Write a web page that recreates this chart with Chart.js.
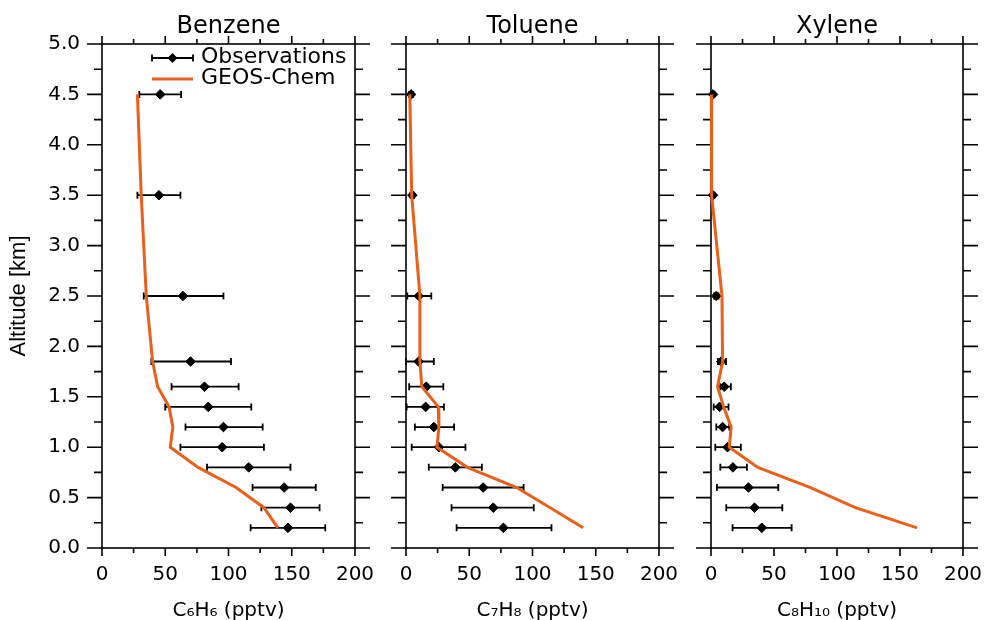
<!DOCTYPE html>
<html><head><meta charset="utf-8">
<script src="https://cdn.jsdelivr.net/npm/chart.js@4"></script>
<style>
html,body{margin:0;padding:0;background:#fff;width:989px;height:620px;overflow:hidden}
canvas{position:absolute;top:0}
</style></head><body>
<canvas id="c1" width="380" height="620" style="left:0px"></canvas>
<canvas id="c2" width="305" height="620" style="left:380px"></canvas>
<canvas id="c3" width="304" height="620" style="left:685px"></canvas>
<script>
// ---------- data ----------
const panelTitles = ['Benzene', 'Toluene', 'Xylene'];
const xTitles = ['C\u2086H\u2086 (pptv)', 'C\u2087H\u2088 (pptv)', 'C\u2088H\u2081\u2080 (pptv)'];
const yTitle = 'Altitude [km]';
const seriesLabels = ['Observations', 'GEOS-Chem'];
const xTickValues = [0, 50, 100, 150, 200];
const yTickValues = [0.0, 0.5, 1.0, 1.5, 2.0, 2.5, 3.0, 3.5, 4.0, 4.5, 5.0];

const altitudes = [4.5, 3.5, 2.5, 1.85, 1.6, 1.4, 1.2, 1.0, 0.8, 0.6, 0.4, 0.2];

const benzeneObs   = [46, 45, 64, 70, 81, 84, 96, 95, 116, 144, 149, 147];
const benzeneLo    = [29.5, 28, 33, 39, 55, 50, 66, 62, 83, 119, 126, 117.5];
const benzeneHi    = [62.5, 62, 96, 102, 108, 118, 127, 128, 149, 169, 172, 176.5];
const benzeneModel = [28, 31, 35, 40, 44, 53, 56, 54, 76, 106, 128, 139];

const tolueneObs   = [4, 5, 10, 10, 16, 15.5, 22, 26, 39, 61, 69, 77];
const tolueneLo    = [2.5, 3.5, 1, 0, 2.5, 0.5, 7, 4.5, 18, 29, 36, 40];
const tolueneHi    = [5.5, 6.5, 20, 22, 29.5, 30, 38, 47, 60, 93, 101, 115];
const tolueneModel = [3, 4.5, 11, 11, 12.5, 25.5, 26, 24.5, 48.5, 87.5, 114, 140];

const xyleneObs    = [1.6, 1.6, 4.2, 8.1, 10.5, 6.8, 9.2, 13.1, 17.4, 29.7, 34.5, 40.3];
const xyleneLo     = [0.5, 0.5, 2.5, 5.5, 7.4, 2.1, 4.2, 3.4, 7.4, 4.7, 12.1, 17.1];
const xyleneHi     = [2.7, 2.7, 6, 11.9, 15.8, 13.9, 14.5, 23.7, 28.5, 53.4, 56.6, 64];
const xyleneModel  = [0.3, 0.5, 8.7, 9.2, 5.2, 10, 16, 14.5, 37.2, 79, 114.6, 163.6];

// ---------- style ----------
const ORANGE = '#E9601A';
Chart.defaults.font.family = 'DejaVu Sans';
Chart.defaults.color = '#000';

const panels = [
  {id: 'c1', obs: benzeneObs, lo: benzeneLo, hi: benzeneHi, model: benzeneModel, yw: 102, padR: 25},
  {id: 'c2', obs: tolueneObs, lo: tolueneLo, hi: tolueneHi, model: tolueneModel, yw: 26, padR: 26},
  {id: 'c3', obs: xyleneObs, lo: xyleneLo, hi: xyleneHi, model: xyleneModel, yw: 26, padR: 26}
];

const frameAndErrors = {
  id: 'frameAndErrors',
  beforeDatasetsDraw(chart) {
    const {ctx, chartArea: a, scales: {x, y}} = chart;
    ctx.save();
    ctx.strokeStyle = '#000';
    ctx.lineWidth = 1.6;
    ctx.strokeRect(a.left, a.top, a.right - a.left, a.bottom - a.top);
    ctx.beginPath();
    for (let i = 0; i < yTickValues.length; i++) {
      const vals = [[yTickValues[i], 15]];
      if (i < yTickValues.length - 1) vals.push([(yTickValues[i] + yTickValues[i + 1]) / 2, 8]);
      for (const [v, L] of vals) {
        const py = y.getPixelForValue(v);
        ctx.moveTo(a.left - L, py); ctx.lineTo(a.left, py);
        ctx.moveTo(a.right, py); ctx.lineTo(a.right + L, py);
      }
    }
    for (let i = 0; i < xTickValues.length; i++) {
      const vals = [[xTickValues[i], 8]];
      if (i < xTickValues.length - 1) vals.push([(xTickValues[i] + xTickValues[i + 1]) / 2, 5]);
      for (const [v, L] of vals) {
        const px = x.getPixelForValue(v);
        ctx.moveTo(px, a.bottom); ctx.lineTo(px, a.bottom + L);
        ctx.moveTo(px, a.top); ctx.lineTo(px, a.top - L);
      }
    }
    ctx.stroke();
    const ds = chart.data.datasets[0];
    ctx.lineWidth = 1.8;
    ctx.beginPath();
    ds.data.forEach((p, i) => {
      const py = y.getPixelForValue(p.y);
      const p1 = x.getPixelForValue(ds.errLo[i]);
      const p2 = x.getPixelForValue(ds.errHi[i]);
      ctx.moveTo(p1, py); ctx.lineTo(p2, py);
      ctx.moveTo(p1, py - 3.5); ctx.lineTo(p1, py + 3.5);
      ctx.moveTo(p2, py - 3.5); ctx.lineTo(p2, py + 3.5);
    });
    ctx.stroke();
    ctx.restore();
  }
};

const obsLegend = {
  id: 'obsLegend',
  afterDraw(chart) {
    const {ctx, chartArea: a} = chart;
    const ds = chart.data.datasets;
    const x1 = a.left + 50, x2 = a.left + 91, xm = (x1 + x2) / 2;
    const y1 = a.top + 14, y2 = a.top + 35;
    ctx.save();
    ctx.strokeStyle = '#000';
    ctx.lineWidth = 1.8;
    ctx.beginPath();
    ctx.moveTo(x1, y1); ctx.lineTo(x2, y1);
    ctx.moveTo(x1, y1 - 3.5); ctx.lineTo(x1, y1 + 3.5);
    ctx.moveTo(x2, y1 - 3.5); ctx.lineTo(x2, y1 + 3.5);
    ctx.stroke();
    ctx.fillStyle = '#000';
    ctx.beginPath();
    ctx.moveTo(xm - 5, y1); ctx.lineTo(xm, y1 - 5); ctx.lineTo(xm + 5, y1); ctx.lineTo(xm, y1 + 5);
    ctx.closePath(); ctx.fill();
    ctx.strokeStyle = ORANGE;
    ctx.lineWidth = 3;
    ctx.beginPath();
    ctx.moveTo(x1, y2); ctx.lineTo(x2, y2);
    ctx.stroke();
    ctx.font = '22px "DejaVu Sans"';
    ctx.textBaseline = 'middle';
    ctx.textAlign = 'left';
    ctx.fillText(ds[0].label, a.left + 99, y1 - 1);
    ctx.fillText(ds[1].label, a.left + 99, y2 - 1);
    ctx.restore();
  }
};

panels.forEach((p, idx) => {
  const cfg = {
    type: 'scatter',
    data: {
      datasets: [
        {
          label: seriesLabels[0],
          data: altitudes.map((a, i) => ({x: p.obs[i], y: a})),
          errLo: p.lo, errHi: p.hi,
          showLine: false,
          pointStyle: 'rectRot',
          pointRadius: 4.8,
          pointBackgroundColor: '#000',
          pointBorderColor: '#000',
          pointBorderWidth: 1,
          order: 1,
          clip: false
        },
        {
          label: seriesLabels[1],
          data: altitudes.map((a, i) => ({x: p.model[i], y: a})),
          showLine: true,
          borderColor: ORANGE,
          borderWidth: 3,
          pointRadius: 0,
          tension: 0,
          order: 0,
          clip: false
        }
      ]
    },
    options: {
      responsive: false,
      animation: false,
      devicePixelRatio: 1,
      layout: {padding: {left: 0, right: p.padR, top: 0, bottom: 0}},
      plugins: {
        legend: {display: false},
        tooltip: {enabled: false},
        title: {
          display: true, text: panelTitles[idx], fullSize: false,
          font: {size: 24, weight: 'normal'}, color: '#000',
          padding: {top: 12, bottom: 3.2}
        }
      },
      scales: {
        x: {
          type: 'linear', position: 'bottom', min: 0, max: 200,
          afterBuildTicks: s => { s.ticks = xTickValues.map(v => ({value: v})); },
          ticks: {padding: 15, font: {size: 20}, color: '#000', maxRotation: 0, autoSkip: false},
          grid: {display: false, drawTicks: false},
          border: {display: false},
          title: {display: true, text: xTitles[idx], font: {size: 20, lineHeight: 0.8}, color: '#000', padding: {top: 0, bottom: 1}},
          afterFit: s => { s.height = 72; s.paddingLeft = 0; s.paddingRight = 0; }
        },
        y: {
          type: 'linear', position: 'left', min: 0, max: 5,
          afterBuildTicks: s => { s.ticks = yTickValues.map(v => ({value: v})); },
          ticks: {display: idx === 0, padding: 22, font: {size: 20}, color: '#000', autoSkip: false,
                  callback: v => Number(v).toFixed(1)},
          grid: {display: false, drawTicks: false},
          border: {display: false},
          title: {display: idx === 0, text: yTitle, font: {family: 'Liberation Sans', size: 22, lineHeight: 1.2}, color: '#000', padding: {top: 6, bottom: 0}},
          afterFit: s => { s.width = p.yw; s.paddingTop = 0; s.paddingBottom = 0; }
        }
      }
    },
    plugins: idx === 0 ? [frameAndErrors, obsLegend] : [frameAndErrors]
  };
  new Chart(document.getElementById(p.id), cfg);
});
</script>
</body></html>
